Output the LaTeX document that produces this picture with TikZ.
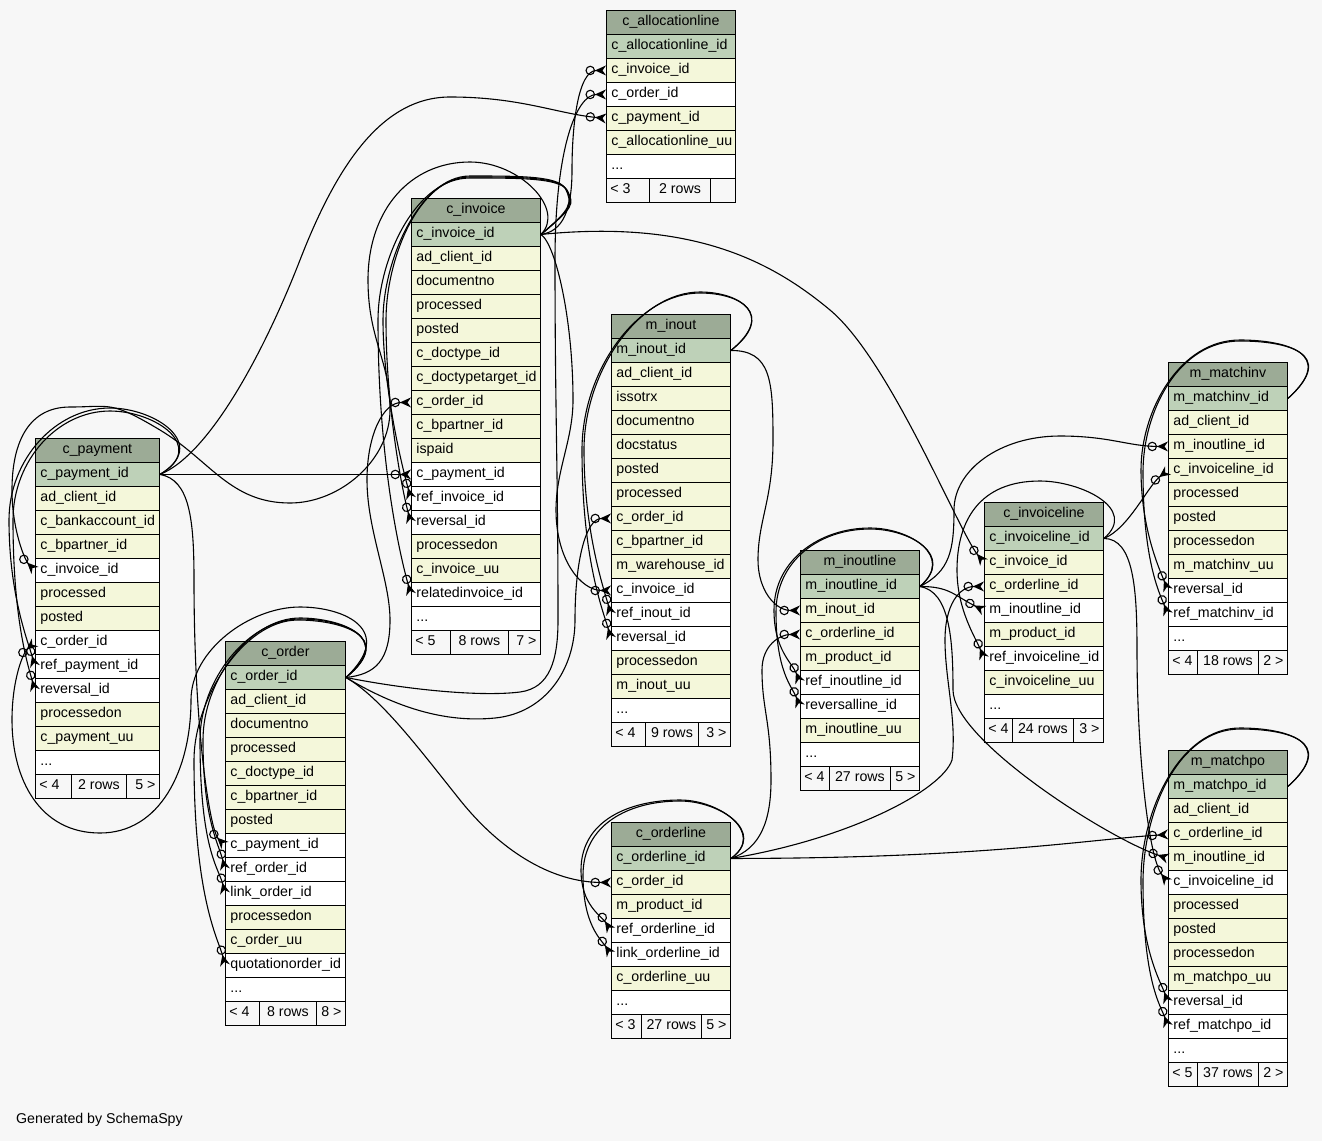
\documentclass[tikz,border=0pt]{standalone}
\usepackage{fontspec}
\setmainfont{Liberation Sans}
\usetikzlibrary{arrows.meta}
\definecolor{bgc}{HTML}{F7F7F7}
\definecolor{hdc}{HTML}{9CAB96}
\definecolor{pkc}{HTML}{BED1B8}
\definecolor{ylc}{HTML}{F4F7DA}
\hyphenpenalty=10000
\exhyphenpenalty=10000
\newcommand\rf{\fontsize{14.2pt}{17pt}\selectfont}
\newcommand\dd{.\kern0pt.\kern0pt.}
% table: name, x, y, width, header, rows (colour/text)
\newcommand\dbtab[6]{%
  \pgfmathsetmacro\tw{#4-10}%
  \node[cell,fill=hdc,align=center,minimum width=#4pt,text width=\tw pt] (#1-0) at (#2,#3) {#5};
  \foreach \fc/\tx [count=\k] in {#6} {
    \node[cell,fill=\fc,minimum width=#4pt,text width=\tw pt] (#1-\k) at (#2,#3+24*\k) {\tx};
  }
}
% footer: name, y, x0, x1, x2, x3, t1, t2, t3
\newcommand\dbfoot[9]{%
  \pgfmathsetmacro\fwa{#4-#3}\pgfmathsetmacro\fwb{#5-#4}\pgfmathsetmacro\fwc{#6-#5}%
  \pgfmathsetmacro\fta{#4-#3-8}\pgfmathsetmacro\ftc{#6-#5-8}%
  \node[foot,minimum width=\fwa pt] (#1-fa) at (#3,#2) {\makebox[\fta pt][l]{#7}};
  \node[foot,minimum width=\fwb pt] (#1-fb) at (#4,#2) {#8};
  \node[foot,minimum width=\fwc pt] (#1-fc) at (#5,#2) {\makebox[\ftc pt][r]{#9}};
}
\begin{document}
\begin{tikzpicture}[x=1pt,y=-1pt,
  cell/.style={draw=black,line width=0.9pt,anchor=north west,minimum height=24pt,
    inner ysep=0pt,inner xsep=5pt,text height=10.5pt,text depth=3.5pt,font=\rf,align=left},
  foot/.style={draw=black,line width=0.9pt,anchor=north west,minimum height=24pt,
    inner ysep=0pt,inner xsep=4pt,text height=10.5pt,text depth=3.5pt,font=\rf,fill=bgc},
  fk/.style={line width=1.1pt,-{Circle[open,length=9.5pt,width=9.5pt,line width=1.1pt] Stealth[reversed,length=11pt,width=10pt,inset=3.5pt]}}]
\useasboundingbox (0,0) rectangle (1322,1141);
\fill[bgc] (0,0) rectangle (1322,1141);

% ---------------- tables ----------------
\dbtab{al}{606}{10}{129}{c\_allocationline}{pkc/c\_allocationline\_id, ylc/c\_invoice\_id, white/c\_order\_id, ylc/c\_payment\_id, ylc/c\_allocationline\_uu, white/\dd}
\dbfoot{al}{178}{606}{649}{710}{735}{< 3}{2 rows}{}

\dbtab{iv}{411}{198}{129}{c\_invoice}{pkc/c\_invoice\_id, ylc/ad\_client\_id, ylc/documentno, ylc/processed, ylc/posted, ylc/c\_doctype\_id, ylc/c\_doctypetarget\_id, ylc/c\_order\_id, ylc/c\_bpartner\_id, ylc/ispaid, white/c\_payment\_id, white/ref\_invoice\_id, white/reversal\_id, ylc/processedon, ylc/c\_invoice\_uu, white/relatedinvoice\_id, white/\dd}
\dbfoot{iv}{630}{411}{450}{508}{540}{< 5}{8 rows}{7 >}

\dbtab{io}{611}{314}{119}{m\_inout}{pkc/m\_inout\_id, ylc/ad\_client\_id, ylc/issotrx, ylc/documentno, ylc/docstatus, ylc/posted, ylc/processed, ylc/c\_order\_id, ylc/c\_bpartner\_id, ylc/m\_warehouse\_id, white/c\_invoice\_id, white/ref\_inout\_id, white/reversal\_id, ylc/processedon, ylc/m\_inout\_uu, white/\dd}
\dbfoot{io}{722}{611}{645}{698}{730}{< 4}{9 rows}{3 >}

\dbtab{py}{35}{438}{124}{c\_payment}{pkc/c\_payment\_id, ylc/ad\_client\_id, ylc/c\_bankaccount\_id, ylc/c\_bpartner\_id, white/c\_invoice\_id, ylc/processed, ylc/posted, white/c\_order\_id, white/ref\_payment\_id, white/reversal\_id, ylc/processedon, ylc/c\_payment\_uu, white/\dd}
\dbfoot{py}{774}{35}{71}{126}{159}{< 4}{2 rows}{5 >}

\dbtab{od}{225}{641}{120}{c\_order}{pkc/c\_order\_id, ylc/ad\_client\_id, ylc/documentno, ylc/processed, ylc/c\_doctype\_id, ylc/c\_bpartner\_id, ylc/posted, white/c\_payment\_id, white/ref\_order\_id, white/link\_order\_id, ylc/processedon, ylc/c\_order\_uu, white/quotationorder\_id, white/\dd}
\dbfoot{od}{1001}{225}{259}{316}{345}{< 4}{8 rows}{8 >}

\dbtab{ol}{611}{822}{119}{c\_orderline}{pkc/c\_orderline\_id, ylc/c\_order\_id, ylc/m\_product\_id, white/ref\_orderline\_id, white/link\_orderline\_id, ylc/c\_orderline\_uu, white/\dd}
\dbfoot{ol}{1014}{611}{641}{701}{730}{< 3}{27 rows}{5 >}

\dbtab{il}{800}{550}{119}{m\_inoutline}{pkc/m\_inoutline\_id, ylc/m\_inout\_id, ylc/c\_orderline\_id, ylc/m\_product\_id, white/ref\_inoutline\_id, white/reversalline\_id, ylc/m\_inoutline\_uu, white/\dd}
\dbfoot{il}{766}{800}{829}{890}{919}{< 4}{27 rows}{5 >}

\dbtab{vl}{984}{502}{119}{c\_invoiceline}{pkc/c\_invoiceline\_id, ylc/c\_invoice\_id, ylc/c\_orderline\_id, white/m\_inoutline\_id, ylc/m\_product\_id, white/ref\_invoiceline\_id, ylc/c\_invoiceline\_uu, white/\dd}
\dbfoot{vl}{718}{984}{1012}{1073}{1103}{< 4}{24 rows}{3 >}

\dbtab{mi}{1168}{362}{119}{m\_matchinv}{pkc/m\_matchinv\_id, ylc/ad\_client\_id, ylc/m\_inoutline\_id, ylc/c\_invoiceline\_id, ylc/processed, ylc/posted, ylc/processedon, ylc/m\_matchinv\_uu, white/reversal\_id, white/ref\_matchinv\_id, white/\dd}
\dbfoot{mi}{650}{1168}{1197}{1258}{1287}{< 4}{18 rows}{2 >}

\dbtab{mp}{1168}{750}{119}{m\_matchpo}{pkc/m\_matchpo\_id, ylc/ad\_client\_id, ylc/c\_orderline\_id, ylc/m\_inoutline\_id, white/c\_invoiceline\_id, ylc/processed, ylc/posted, ylc/processedon, ylc/m\_matchpo\_uu, white/reversal\_id, white/ref\_matchpo\_id, white/\dd}
\dbfoot{mp}{1062}{1168}{1197}{1258}{1287}{< 5}{37 rows}{2 >}

\node[font=\rf,anchor=west,inner sep=0pt] (gen) at (16,1120) {Generated by SchemaSpy};

% ---------------- connectors ----------------
% c_allocationline
\draw[fk] (iv-1.east) .. controls +(22,-3) and +(0,40) .. (572,170) .. controls +(0,-45) and +(-28,0) .. (al-2.west);
\draw[fk] (od-1.east) .. controls +(60,12) and +(-40,5) .. (520,692) .. controls +(30,-4) and +(0,40) .. (558,620) .. controls +(0,-150) and +(0,150) .. (555,260) .. controls +(0,-110) and +(-30,0) .. (al-3.west);
\draw[fk] (py-1.east) .. controls +(50,-20) and +(-35,90) .. (300,260) .. controls +(35,-90) and +(-70,0) .. (450,97) .. controls +(70,0) and +(-50,-5) .. (al-4.west);
% c_invoice
\draw[fk] (od-1.east) .. controls +(30,-3) and +(0,40) .. (390,620) .. controls +(0,-40) and +(0,50) .. (367,480) .. controls +(0,-45) and +(-28,0) .. (iv-8.west);
\draw[fk] (py-1.east) -- (iv-11.west);
\draw[fk] (iv-1.east) .. controls +(30,-25) and +(8,15) .. (565,188) .. controls +(-8,-12) and +(50,0) .. (470,176) .. controls +(-50,0) and +(0,-60) .. (383,320) .. controls +(0,70) and +(-8,-28) .. (iv-12.west);
\draw[fk] (iv-1.east) .. controls +(31,-26) and +(8,15) .. (566,189) .. controls +(-8,-12) and +(50,0) .. (470,177) .. controls +(-52,0) and +(0,-60) .. (386,320) .. controls +(0,90) and +(-8,-28) .. (iv-13.west);
\draw[fk] (iv-1.east) .. controls +(32,-27) and +(8,15) .. (567,190) .. controls +(-8,-12) and +(50,0) .. (470,178) .. controls +(-55,0) and +(0,-60) .. (378,320) .. controls +(0,150) and +(-8,-28) .. (iv-16.west);
% m_inout
\draw[fk] (od-1.east) .. controls +(50,30) and +(-50,5) .. (495,718) .. controls +(50,-5) and +(0,50) .. (575,620) .. controls +(0,-60) and +(-25,0) .. (io-8.west);
\draw[fk] (iv-1.east) .. controls +(15,10) and +(0,-80) .. (573,400) .. controls +(0,40) and +(0,-40) .. (556,510) .. controls +(0,50) and +(-30,0) .. (io-11.west);
\draw[fk] (io-1.east) .. controls +(45,-35) and +(40,0) .. (700,292) .. controls +(-60,0) and +(0,-80) .. (584,450) .. controls +(0,80) and +(-8,-28) .. (io-12.west);
\draw[fk] (io-1.east) .. controls +(45,-37) and +(40,0) .. (700,293) .. controls +(-62,0) and +(0,-80) .. (582,450) .. controls +(0,110) and +(-8,-28) .. (io-13.west);
% c_payment
\draw[fk] (iv-1.east) .. controls +(25,-25) and +(50,0) .. (470,162) .. controls +(-60,0) and +(0,-70) .. (368,280) .. controls +(0,60) and +(0,-50) .. (390,410) .. controls +(0,50) and +(50,0) .. (290,503) .. controls +(-60,0) and +(50,30) .. (160,430) .. controls +(-50,-30) and +(40,0) .. (70,407) .. controls +(-40,0) and +(0,-50) .. (12,490) .. controls +(0,40) and +(-10,-10) .. (py-5.west);
\draw[fk] (od-1.east) .. controls +(50,-47) and +(45,0) .. (300,607) .. controls +(-50,0) and +(0,-50) .. (191,700) .. controls +(0,70) and +(60,0) .. (100,833) .. controls +(-60,0) and +(0,60) .. (12,720) .. controls +(0,-40) and +(-12,10) .. (py-8.west);
\draw[fk] (py-1.east) .. controls +(50,-30) and +(45,0) .. (110,408) .. controls +(-55,0) and +(0,-60) .. (9,520) .. controls +(0,75) and +(-7,-25) .. (py-9.west);
\draw[fk] (py-1.east) .. controls +(48,-28) and +(45,0) .. (110,411) .. controls +(-52,0) and +(0,-60) .. (13,520) .. controls +(0,100) and +(-7,-25) .. (py-10.west);
% c_order
\draw[fk] (py-1.east) .. controls +(30,5) and +(0,-60) .. (194,580) .. controls +(0,150) and +(-15,-15) .. (od-8.west);
\draw[fk] (od-1.east) .. controls +(50,-40) and +(40,0) .. (300,618) .. controls +(-50,0) and +(0,-60) .. (203,740) .. controls +(0,80) and +(-6,-25) .. (od-9.west);
\draw[fk] (od-1.east) .. controls +(50,-41) and +(40,0) .. (300,619) .. controls +(-52,0) and +(0,-60) .. (200,740) .. controls +(0,110) and +(-6,-25) .. (od-10.west);
\draw[fk] (od-1.east) .. controls +(52,-42) and +(40,0) .. (298,620) .. controls +(-55,0) and +(0,-60) .. (194,760) .. controls +(0,140) and +(-6,-25) .. (od-13.west);
% c_orderline
\draw[fk] (od-1.east) .. controls +(35,20) and +(-40,-50) .. (460,800) .. controls +(40,50) and +(-60,0) .. (ol-2.west);
\draw[fk] (ol-1.east) .. controls +(35,-25) and +(40,0) .. (680,800) .. controls +(-50,0) and +(0,-50) .. (581,870) .. controls +(0,35) and +(-10,-15) .. (ol-4.west);
\draw[fk] (ol-1.east) .. controls +(36,-26) and +(40,0) .. (680,801) .. controls +(-52,0) and +(0,-50) .. (583,875) .. controls +(0,50) and +(-10,-15) .. (ol-5.west);
% m_inoutline
\draw[fk] (io-1.east) .. controls +(40,0) and +(0,-60) .. (773,440) .. controls +(0,60) and +(0,-40) .. (758,560) .. controls +(0,30) and +(-25,0) .. (il-2.west);
\draw[fk] (ol-1.east) .. controls +(30,-10) and +(0,40) .. (771,780) .. controls +(0,-60) and +(0,40) .. (762,670) .. controls +(0,-25) and +(-20,0) .. (il-3.west);
\draw[fk] (il-1.east) .. controls +(35,-30) and +(40,0) .. (870,528) .. controls +(-50,0) and +(0,-50) .. (774,610) .. controls +(0,40) and +(-8,-20) .. (il-5.west);
\draw[fk] (il-1.east) .. controls +(36,-31) and +(40,0) .. (870,529) .. controls +(-52,0) and +(0,-50) .. (776,612) .. controls +(0,60) and +(-8,-20) .. (il-6.west);
% c_invoiceline
\draw[fk] (iv-1.east) .. controls +(150,-15) and +(-60,-50) .. (830,310) .. controls +(60,50) and +(-25,-30) .. (vl-2.west);
\draw[fk] (ol-1.east) .. controls +(120,-20) and +(-10,30) .. (952,760) .. controls +(5,-40) and +(0,40) .. (945,640) .. controls +(0,-35) and +(-25,0) .. (vl-3.west);
\draw[fk] (il-1.east) .. controls +(30,0) and +(-30,-15) .. (vl-4.west);
\draw[fk] (vl-1.east) .. controls +(35,-30) and +(40,0) .. (1040,481) .. controls +(-60,0) and +(0,-50) .. (957,570) .. controls +(0,40) and +(-8,-20) .. (vl-6.west);
% m_matchinv
\draw[fk] (il-1.east) .. controls +(30,-15) and +(0,40) .. (954,510) .. controls +(0,-40) and +(-60,0) .. (1060,436) .. controls +(50,0) and +(-40,0) .. (mi-3.west);
\draw[fk] (vl-1.east) .. controls +(25,-10) and +(-20,15) .. (mi-4.west);
\draw[fk] (mi-1.east) .. controls +(50,-45) and +(45,0) .. (1240,340) .. controls +(-60,0) and +(0,-60) .. (1141,470) .. controls +(0,60) and +(-8,-20) .. (mi-9.west);
\draw[fk] (mi-1.east) .. controls +(51,-46) and +(45,0) .. (1240,341) .. controls +(-62,0) and +(0,-60) .. (1143,472) .. controls +(0,90) and +(-8,-20) .. (mi-10.west);
% m_matchpo
\draw[fk] (ol-1.east) .. controls +(250,0) and +(-80,5) .. (mp-3.west);
\draw[fk] (il-1.east) .. controls +(30,5) and +(0,-50) .. (953,690) .. controls +(0,50) and +(-60,-20) .. (mp-4.west);
\draw[fk] (vl-1.east) .. controls +(30,0) and +(0,-60) .. (1137,650) .. controls +(0,100) and +(-20,-25) .. (mp-5.west);
\draw[fk] (mp-1.east) .. controls +(50,-45) and +(45,0) .. (1240,728) .. controls +(-60,0) and +(0,-70) .. (1141,880) .. controls +(0,70) and +(-7,-20) .. (mp-10.west);
\draw[fk] (mp-1.east) .. controls +(51,-46) and +(45,0) .. (1240,729) .. controls +(-62,0) and +(0,-70) .. (1143,882) .. controls +(0,100) and +(-7,-20) .. (mp-11.west);
\end{tikzpicture}
\end{document}
